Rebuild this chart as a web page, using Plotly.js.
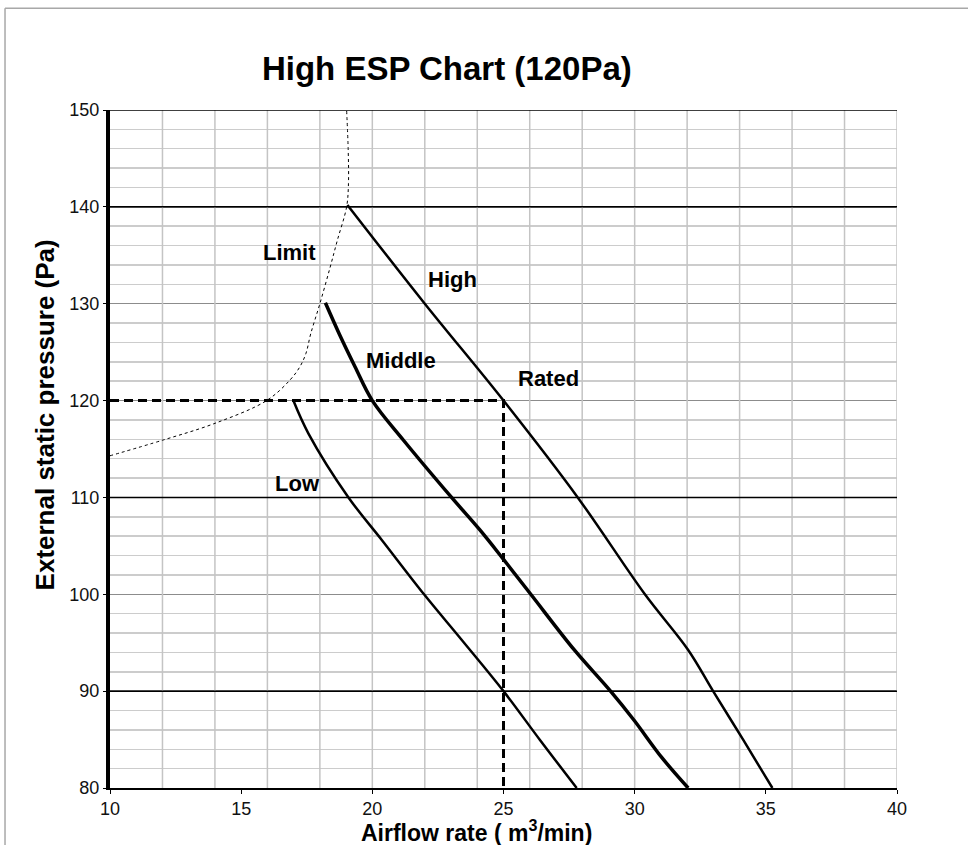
<!DOCTYPE html>
<html>
<head>
<meta charset="utf-8">
<script src="https://cdn.plot.ly/plotly-3.0.1.min.js"></script>
<style>
  html, body { margin: 0; padding: 0; background: #ffffff; }
  #chart { width: 968px; height: 845px; }
</style>
</head>
<body>
<div id="chart"></div>
<script>
// ---- Data ----
const limitX  = [10.0, 12.03, 14.0, 15.97, 16.86, 17.24, 17.47, 17.65, 18.0, 18.39, 18.67, 19.02, 19.09, 19.08, 19.02];
const limitY  = [114.3, 115.93, 117.65, 120.0, 122.12, 123.5, 124.88, 126.88, 130.0, 133.75, 136.58, 140.0, 142.4, 145.84, 150.0];

const highX   = [19.05, 22.0, 25.0, 27.83, 30.39, 32.04, 32.99, 34.14, 35.25];
const highY   = [140.2, 130.0, 120.0, 110.0, 100.0, 94.25, 90.0, 84.96, 80.0];

const middleX = [18.21, 18.74, 19.34, 20.0, 21.18, 23.02, 24.1, 25.0, 26.04, 27.7, 29.08, 29.97, 31.03, 32.04];
const middleY = [130.1, 126.88, 123.5, 120.0, 115.93, 110.0, 106.64, 103.6, 100.0, 94.25, 90.0, 87.02, 83.16, 80.0];

const lowX    = [16.99, 17.56, 19.09, 20.36, 21.97, 23.41, 25.0, 26.39, 27.79];
const lowY    = [120.0, 116.62, 110.0, 105.61, 100.0, 95.28, 90.0, 84.96, 80.0];

const ratedX  = [10, 25, 25];
const ratedY  = [120, 120, 80];

const curveLabels = ["Limit", "High", "Middle", "Rated", "Low"];
const labelX      = [16.86, 23.06, 21.11, 26.70, 17.13];
const labelY      = [135.29, 132.45, 124.09, 122.33, 111.39];

const xTickVals  = [10, 15, 20, 25, 30, 35, 40];
const yTickVals  = [80, 90, 100, 110, 120, 130, 140, 150];
const xGridVals  = [12, 14, 16, 18, 20, 22, 24, 26, 28, 30, 32, 34, 36, 38, 40];
const yDarkLines = [90, 110, 140, 150];

const FONT = "Liberation Sans, Arial, Helvetica, sans-serif";

// ---- Traces ----
const traces = [
  { x: limitX, y: limitY, mode: "lines", name: "Limit",
    line: { color: "#000", width: 1, dash: "dot", shape: "spline", smoothing: 1 } },
  { x: highX, y: highY, mode: "lines", name: "High",
    line: { color: "#000", width: 2.5, shape: "spline", smoothing: 1 } },
  { x: middleX, y: middleY, mode: "lines", name: "Middle",
    line: { color: "#000", width: 3.5, shape: "spline", smoothing: 1 } },
  { x: lowX, y: lowY, mode: "lines", name: "Low",
    line: { color: "#000", width: 2.5, shape: "spline", smoothing: 1 } },
  { x: ratedX, y: ratedY, mode: "lines", name: "Rated",
    line: { color: "#000", width: 3, dash: "9px,5px" } }
];

// ---- Shapes: vertical grid, dark horizontal lines, outer frame ----
const shapes = [];
xGridVals.forEach(v => shapes.push({
  type: "line", xref: "x", yref: "y", x0: v, x1: v, y0: 80, y1: 150,
  line: { color: "#c4c4c4", width: 1.5 }, layer: "between"
}));
yDarkLines.forEach(v => shapes.push({
  type: "line", xref: "x", yref: "y", x0: 10, x1: 40, y0: v, y1: v,
  line: { color: "#000", width: 1.5 }, layer: "between"
}));
// outer light frame (left and top)
shapes.push({ type: "line", xref: "paper", yref: "paper", x0: -0.1334, x1: -0.1334, y0: -0.09, y1: 1.1502,
  line: { color: "#a8a8a8", width: 1.5 } });
shapes.push({ type: "line", xref: "paper", yref: "paper", x0: -0.1334, x1: 1.1, y0: 1.1502, y1: 1.1502,
  line: { color: "#a8a8a8", width: 1.5 } });

// ---- Annotations: curve labels and axis titles ----
const annotations = curveLabels.map((t, i) => ({
  x: labelX[i], y: labelY[i], xref: "x", yref: "y", text: "<b>" + t + "</b>",
  showarrow: false, font: { family: FONT, size: 22, color: "#000" },
  xanchor: "center", yanchor: "middle"
}));
annotations.push({
  xref: "paper", yref: "paper", x: 0.466, y: -0.063, xanchor: "center", yanchor: "middle",
  text: "<b>Airflow rate ( m<sup>3</sup>/min)</b>", showarrow: false,
  font: { family: FONT, size: 23, color: "#000" }
});
annotations.push({
  xref: "paper", yref: "paper", x: -0.0826, y: 0.551, xanchor: "center", yanchor: "middle",
  text: "<b>External static pressure (Pa)</b>", textangle: -90, showarrow: false,
  font: { family: FONT, size: 26, color: "#000" }
});

const layout = {
  width: 968, height: 845,
  margin: { l: 110, r: 71, t: 110, b: 57 },
  paper_bgcolor: "#fff", plot_bgcolor: "#fff",
  showlegend: false,
  title: {
    text: "<b>High ESP Chart (120Pa)</b>",
    font: { family: FONT, size: 33, color: "#000" },
    x: 0.428, xref: "paper", xanchor: "center",
    y: 0.9195, yref: "container", yanchor: "middle"
  },
  xaxis: {
    range: [10, 40], tickvals: xTickVals, ticktext: xTickVals.map(String),
    showgrid: false, zeroline: false,
    showline: true, linecolor: "#000", linewidth: 1.5,
    ticks: "outside", ticklen: 4, tickcolor: "#000", tickwidth: 1,
    tickfont: { family: FONT, size: 18, color: "#111" }
  },
  yaxis: {
    range: [80, 150], tickvals: yTickVals, ticktext: yTickVals.map(String),
    showgrid: true, gridcolor: "#8c8c8c", gridwidth: 1.5,
    minor: { dtick: 2, tick0: 80, showgrid: true, gridcolor: "#cccccc", gridwidth: 1.5, ticks: "" },
    zeroline: false,
    showline: true, linecolor: "#000", linewidth: 4,
    ticks: "outside", ticklen: 3, tickcolor: "#000", tickwidth: 1,
    tickfont: { family: FONT, size: 18, color: "#111" }
  },
  shapes: shapes,
  annotations: annotations
};

Plotly.newPlot("chart", traces, layout, { displayModeBar: false, staticPlot: true });
</script>
</body>
</html>
